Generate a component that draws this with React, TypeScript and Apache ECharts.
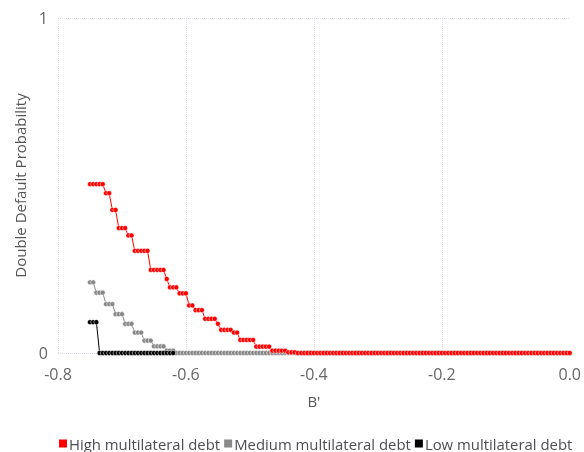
import React, { useEffect, useRef } from "react";
import * as echarts from "echarts";

// B' grid: first value and step of the sampled points
const bStart = -0.75;
const bStep = 0.005;
const bCount = 151;

// Step levels (value) and how many consecutive B' points sit on each level
const highLevels = [0.504, 0.477, 0.427, 0.373, 0.351, 0.305, 0.248, 0.221, 0.196, 0.178, 0.142, 0.128, 0.102, 0.087, 0.069, 0.061, 0.039, 0.019, 0.007, 0.002, 0];
const highCounts = [5, 2, 2, 3, 2, 5, 5, 1, 3, 3, 2, 3, 4, 1, 4, 2, 5, 5, 5, 3, 86];

const mediumLevels = [0.211, 0.18, 0.146, 0.116, 0.087, 0.061, 0.037, 0.02, 0.007, 0];
const mediumCounts = [2, 3, 3, 3, 3, 3, 3, 4, 3, 124];

const lowLevels = [0.092, 0];
const lowCounts = [3, 24];

const seriesNames = ["High multilateral debt", "Medium multilateral debt", "Low multilateral debt"];
const seriesColors = ["#ff0000", "#888888", "#000000"];

const xTicks = [-0.8, -0.6, -0.4, -0.2, 0.0];

function buildPoints(levels: number[], counts: number[]): [number, number][] {
  const pts: [number, number][] = [];
  let i = 0;
  levels.forEach((v, k) => {
    for (let c = 0; c < counts[k] && i < bCount; c++) {
      const b = +(bStart + i * bStep).toFixed(3);
      pts.push([b, v]);
      i++;
    }
  });
  return pts;
}

export default function App() {
  const ref = useRef<HTMLDivElement>(null);
  useEffect(() => {
    if (!ref.current) return;
    const chart = echarts.init(ref.current, null, { renderer: "svg" });
    const font = "'Open Sans', sans-serif";
    const grid = "#dcdce6";
    const data = [
      buildPoints(highLevels, highCounts),
      buildPoints(mediumLevels, mediumCounts),
      buildPoints(lowLevels, lowCounts),
    ];
    chart.setOption({
      animation: false,
      textStyle: { fontFamily: font },
      grid: { left: 58, right: 13, top: 18, bottom: 99, containLabel: false },
      legend: {
        top: 435,
        left: 57,
        width: 527,
        padding: 0,
        itemWidth: 10,
        itemHeight: 10,
        itemGap: 2,
        icon: "rect",
        textStyle: { fontFamily: font, fontSize: 14.9, lineHeight: 17, color: "#4d4d55", padding: [0, 0, 0, -4] },
        data: seriesNames,
      },
      xAxis: {
        type: "value",
        min: -0.8,
        max: 0,
        interval: 0.2,
        name: "B'",
        nameLocation: "middle",
        nameGap: 40,
        nameTextStyle: { fontFamily: font, fontSize: 15, color: "#555" },
        axisLine: { show: false },
        axisTick: { show: false },
        axisLabel: {
          fontFamily: font,
          fontSize: 16,
          color: "#666",
          margin: 13,
          formatter: (v: number) => {
            const t = xTicks.find((x) => Math.abs(x - v) < 1e-9);
            return (t !== undefined ? t : v).toFixed(1);
          },
        },
        splitLine: { show: true, showMaxLine: false, lineStyle: { type: "dotted", color: grid, width: 1 } },
      },
      yAxis: {
        type: "value",
        min: 0,
        max: 1,
        interval: 1,
        name: "Double Default Probability",
        nameLocation: "middle",
        nameGap: 31,
        nameTextStyle: { fontFamily: font, fontSize: 15, color: "#555" },
        axisLine: { show: false },
        axisTick: { show: false },
        axisLabel: { fontFamily: font, fontSize: 16, color: "#666", margin: 10 },
        splitLine: { show: true, lineStyle: { type: "dotted", color: grid, width: 1 } },
      },
      series: seriesNames.map((name, k) => ({
        name,
        type: "line",
        data: data[k],
        z: k === 0 ? 4 : 3,
        symbol: "circle",
        symbolSize: 5,
        showSymbol: true,
        showAllSymbol: true,
        color: seriesColors[k],
        itemStyle: { color: seriesColors[k], borderColor: "#ffffff", borderWidth: 0.5 },
        lineStyle: { color: seriesColors[k], width: 1 },
      })),
    });
    return () => chart.dispose();
  }, []);
  return (
    <div
      ref={ref}
      style={{ position: "fixed", left: 0, top: 0, width: 584, height: 452 }}
    />
  );
}
